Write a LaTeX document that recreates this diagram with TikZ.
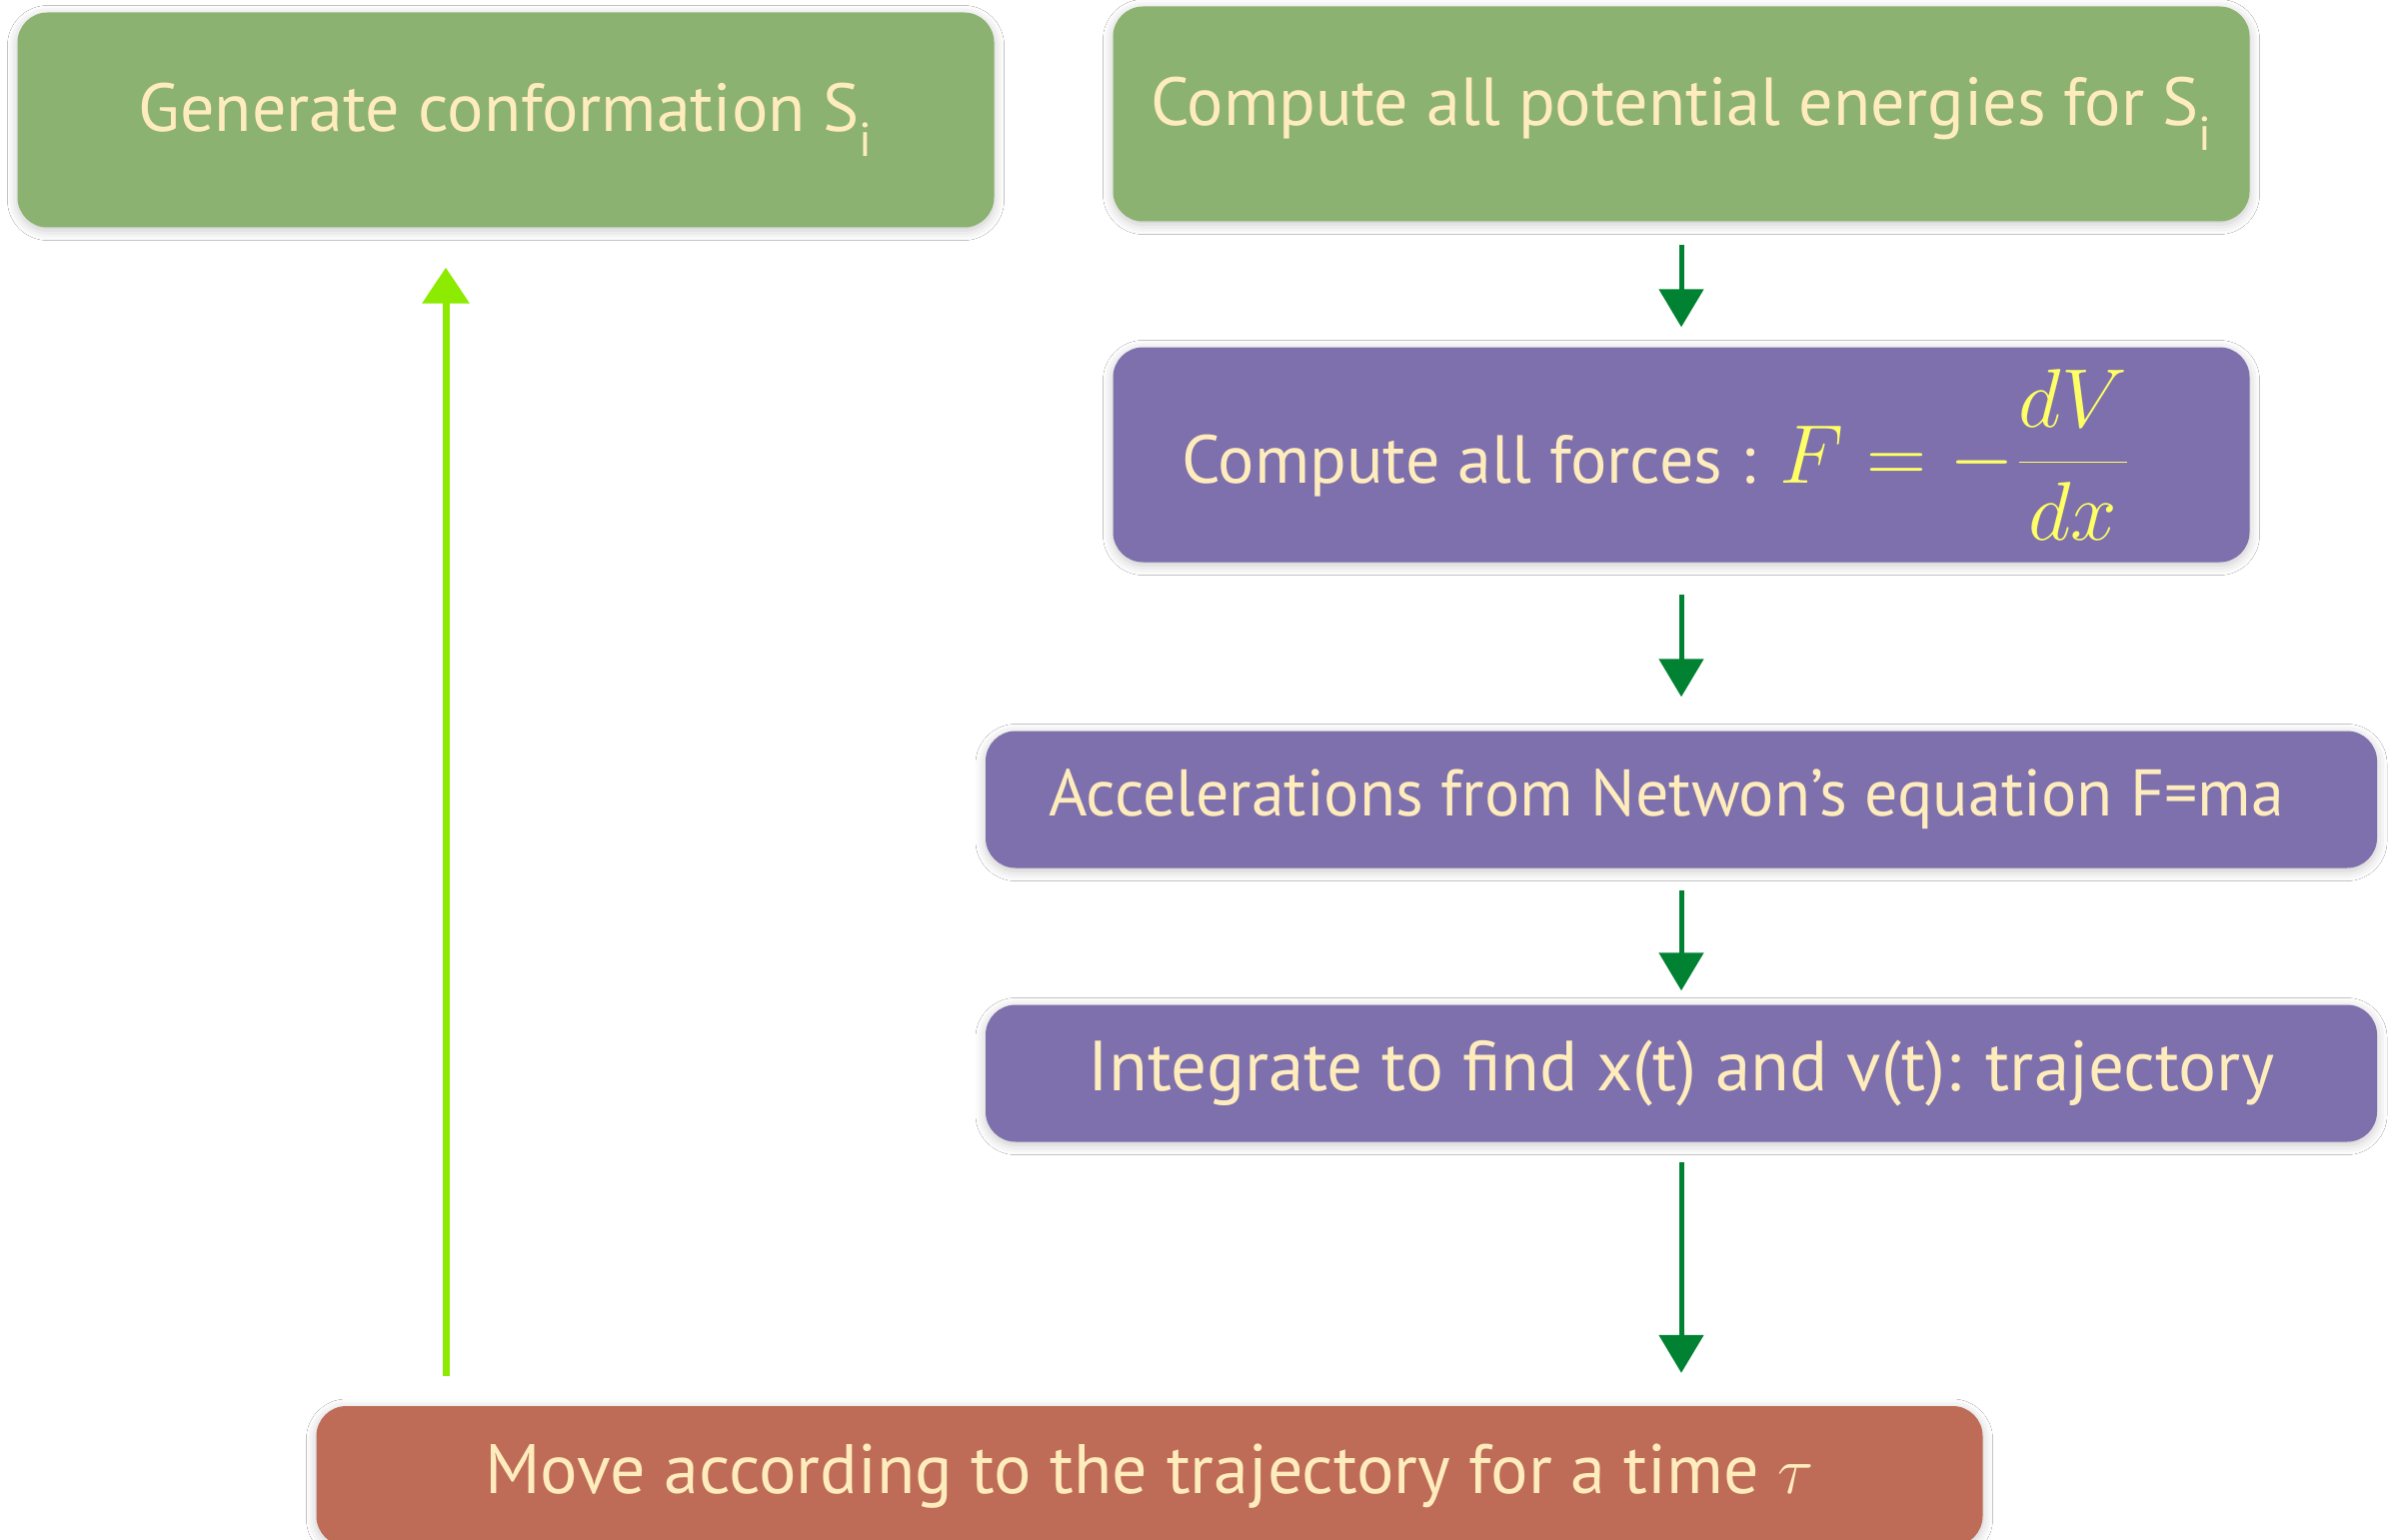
\documentclass[tikz,border=0pt]{standalone}
\usepackage{fontspec}
\setmainfont{PT Sans}
\usetikzlibrary{arrows.meta,shadows.blur}
\definecolor{boxgreen}{RGB}{139,178,112}
\definecolor{boxpurple}{RGB}{125,112,172}
\definecolor{boxred}{RGB}{190,108,88}
\definecolor{cream}{RGB}{255,236,189}
\definecolor{mathyellow}{RGB}{255,255,102}
\definecolor{arrowgreen}{RGB}{0,130,50}
\definecolor{limegreen}{RGB}{140,235,0}
\tikzset{
  card/.style={rounded corners=30pt, inner sep=0pt, text=cream,
    font=\fontsize{68}{80}\selectfont,
    blur shadow={shadow xshift=0pt, shadow yshift=-3pt, shadow blur radius=10pt, shadow opacity=22}},
  greencard/.style={card, fill=boxgreen, minimum height=215pt},
  purplecard/.style={card, fill=boxpurple},
  redcard/.style={card, fill=boxred},
  flow/.style={draw=arrowgreen, line width=5pt, -{Triangle[width=44pt,length=38pt]}},
  back/.style={draw=limegreen, line width=7pt, -{Triangle[width=46pt,length=36pt]}}
}
\begin{document}
\begin{tikzpicture}[x=1pt,y=-1pt]
\clip (0,0) rectangle (2393,1541);
\fill[white] (0,0) rectangle (2393,1541);
\node[greencard, minimum width=977pt] (gen) at (506,120) {Generate conformation S\textsubscript{i}};
\node[greencard, minimum width=1137pt] (pot) at (1682,114) {Compute all potential energies for S\textsubscript{i}};
\node[purplecard, minimum width=1137pt, minimum height=215pt] (force) at (1682,455)
  {Compute all forces : {\color{mathyellow}\scalebox{3.35}{$\displaystyle F=-\frac{dV}{dx}$}}\hspace*{50pt}};
\node[purplecard, minimum width=1392pt, minimum height=137pt, font=\fontsize{66}{78}\selectfont] (acc) at (1682,800) {Accelerations from Netwon’s equation F=ma\hspace*{30pt}};
\node[purplecard, minimum width=1392pt, minimum height=137pt, font=\fontsize{71}{84}\selectfont] (integ) at (1682,1074) {Integrate to find x(t) and v(t): trajectory};
\node[redcard, minimum width=1667pt, minimum height=140pt, font=\fontsize{70}{84}\selectfont] (move) at (1150,1477) {Move according to the trajectory for a time \scalebox{2.7}{$\tau$}};
\coordinate (lx) at (446,0);
\draw[flow, shorten <=23pt, shorten >=20pt] (pot.south) -- (force.north);
\draw[flow, shorten <=32pt, shorten >=34pt] (force.south) -- (acc.north);
\draw[flow, shorten <=22pt, shorten >=14pt] (acc.south) -- (integ.north);
\draw[flow, shorten <=20pt, shorten >=33pt] (integ.south) -- (integ.south |- move.north);
\draw[back, shorten <=30pt, shorten >=40pt] (lx |- move.north) -- (lx |- gen.south);
\end{tikzpicture}
\end{document}
